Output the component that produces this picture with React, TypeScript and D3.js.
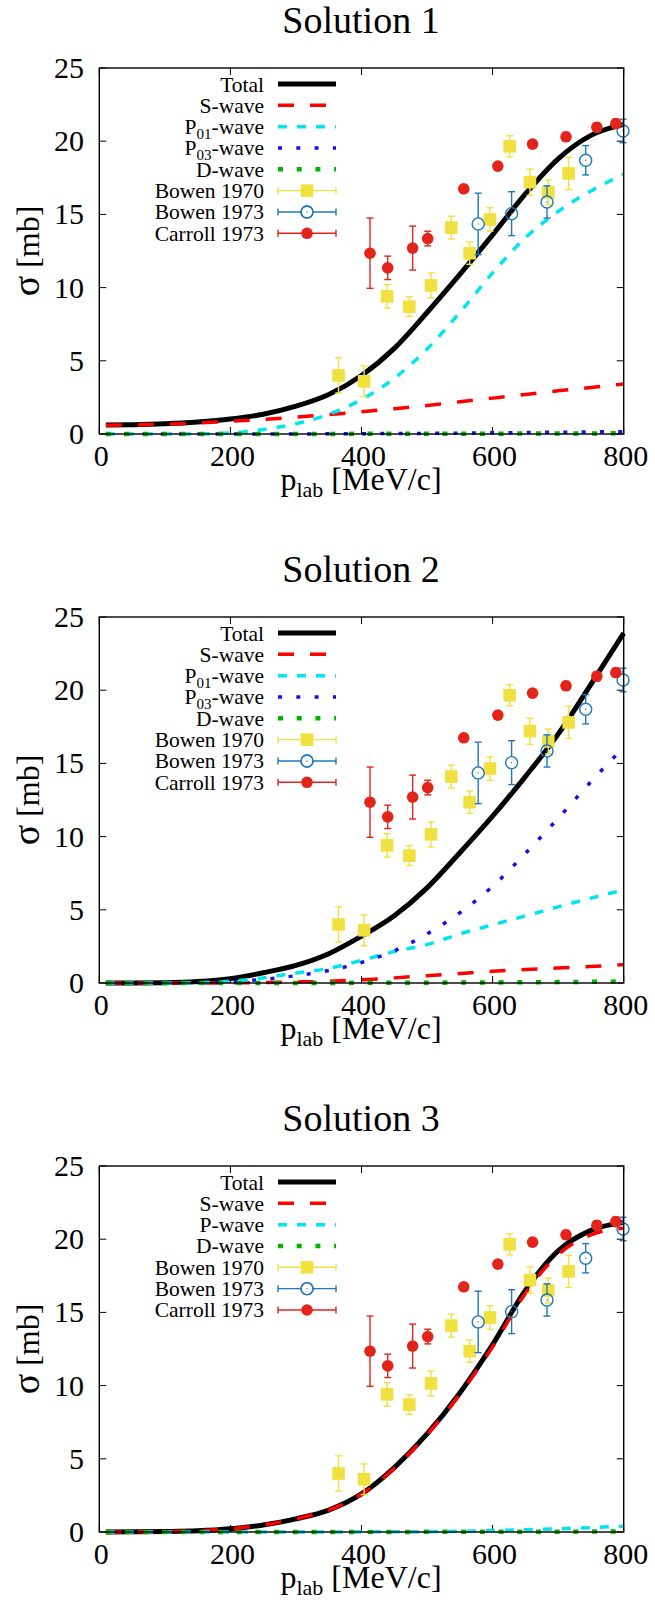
import React from 'react';
import * as d3 from 'd3';

// ---------- data ----------
const pGrid = [10, 50, 100, 150, 200, 250, 300, 350, 400, 450, 500, 550, 600, 650, 700, 750, 800];

// Solution 1
const s1Total = [0.62, 0.64, 0.7, 0.82, 1.02, 1.35, 1.9, 2.7, 4.0, 5.85, 8.3, 10.9, 13.6, 16.4, 18.8, 20.4, 21.15];
const s1S = [0.6, 0.62, 0.67, 0.75, 0.87, 1.0, 1.15, 1.32, 1.52, 1.73, 1.95, 2.2, 2.45, 2.7, 2.95, 3.18, 3.42];
const s1P01 = [0, 0, 0, 0.01, 0.07, 0.3, 0.7, 1.35, 2.35, 3.8, 5.8, 8.3, 11.0, 13.4, 15.2, 16.6, 17.75];
const s1P03 = [0, 0, 0, 0, 0, 0, 0, 0.01, 0.02, 0.03, 0.04, 0.06, 0.08, 0.1, 0.12, 0.14, 0.16];
const s1D = [0, 0, 0, 0, 0, 0, 0, 0, 0.01, 0.01, 0.01, 0.02, 0.02, 0.03, 0.03, 0.04, 0.05];

// Solution 2
const s2Total = [0, 0, 0.02, 0.1, 0.3, 0.7, 1.2, 2.0, 3.2, 4.6, 6.5, 8.9, 11.4, 14.1, 17.0, 20.4, 23.9];
const s2S = [0, 0, 0, 0, 0.01, 0.03, 0.07, 0.12, 0.22, 0.35, 0.5, 0.65, 0.8, 0.92, 1.03, 1.13, 1.25];
const s2P01 = [0, 0, 0, 0.02, 0.12, 0.35, 0.68, 1.0, 1.55, 2.15, 2.62, 3.35, 3.97, 4.58, 5.2, 5.8, 6.35];
const s2P03 = [0, 0, 0, 0.01, 0.08, 0.25, 0.5, 0.85, 1.4, 2.2, 3.35, 4.8, 6.6, 8.85, 11.25, 13.75, 16.1];
const s2D = [0, 0, 0, 0, 0, 0, 0, 0, 0.01, 0.01, 0.02, 0.03, 0.04, 0.05, 0.06, 0.08, 0.1];

// Solution 3
const s3Total = [0, 0.01, 0.03, 0.08, 0.22, 0.48, 0.9, 1.5, 2.6, 4.4, 6.7, 9.5, 12.8, 16.5, 19.2, 20.6, 21.15];
const s3S = [0, 0.01, 0.03, 0.08, 0.22, 0.48, 0.9, 1.5, 2.58, 4.35, 6.65, 9.4, 12.65, 16.3, 18.95, 20.3, 20.75];
const s3P = [0, 0, 0, 0, 0, 0, 0, 0, 0.01, 0.01, 0.02, 0.05, 0.1, 0.15, 0.22, 0.3, 0.4];
const s3D = [0, 0, 0, 0, 0, 0, 0, 0, 0, 0, 0.01, 0.01, 0.01, 0.02, 0.02, 0.03, 0.03];

// experimental data
const bowen70P = [365, 404, 439, 473, 506, 537, 565, 596, 626, 657, 685, 716];
const bowen70Sigma = [4.0, 3.6, 9.4, 8.7, 10.15, 14.1, 12.35, 14.65, 19.65, 17.2, 16.5, 17.8];
const bowen70Err = [1.2, 1.05, 0.8, 0.67, 0.85, 0.78, 0.76, 0.8, 0.72, 0.9, 0.85, 1.1];

const bowen73P = [578, 629, 683, 742, 799];
const bowen73Sigma = [14.35, 15.05, 15.85, 18.7, 20.7];
const bowen73Err = [2.1, 1.5, 1.1, 1.0, 0.8];

const carrollP = [413, 440, 478, 501, 556, 608, 661, 712, 759, 788];
const carrollSigma = [12.35, 11.35, 12.7, 13.35, 16.75, 18.3, 19.8, 20.3, 20.95, 21.2];
const carrollErr = [2.4, 0.8, 1.5, 0.5, 0.2, 0.2, 0.2, 0.3, 0.3, 0.3];

const xTicks = [0, 200, 400, 600, 800];
const yTicks = [0, 5, 10, 15, 20, 25];

// ---------- styles ----------
const FONT = "'Liberation Serif', 'Times New Roman', Times, serif";
const LEFT = 99.3;
const RIGHT = 623.7;
const PH = 366;
const PANEL_TOPS = [68, 617, 1166];

const C_YELLOW = '#f0e040';
const C_BLUE = '#1f78be';
const C_RED = '#e3241b';

type CurveDef = {
  name: string;
  sub?: string;
  values: number[];
  color: string;
  width: number;
  dash?: string;
};

const styleTotal = { color: '#000000', width: 5, dash: undefined };
const styleS = { color: '#ff0000', width: 3.5, dash: '16 16' };
const styleP = { color: '#00e5ee', width: 3.5, dash: '9 10' };
const styleP03 = { color: '#1010f0', width: 3.5, dash: '4 14.3' };
const styleD = { color: '#00b400', width: 4.5, dash: '5 13.7' };

const panels: { title: string; curves: CurveDef[] }[] = [
  {
    title: 'Solution 1',
    curves: [
      { name: 'Total', values: s1Total, ...styleTotal },
      { name: 'S-wave', values: s1S, ...styleS },
      { name: 'P', sub: '01', values: s1P01, ...styleP },
      { name: 'P', sub: '03', values: s1P03, ...styleP03 },
      { name: 'D-wave', values: s1D, ...styleD },
    ],
  },
  {
    title: 'Solution 2',
    curves: [
      { name: 'Total', values: s2Total, ...styleTotal },
      { name: 'S-wave', values: s2S, ...styleS },
      { name: 'P', sub: '01', values: s2P01, ...styleP },
      { name: 'P', sub: '03', values: s2P03, ...styleP03 },
      { name: 'D-wave', values: s2D, ...styleD },
    ],
  },
  {
    title: 'Solution 3',
    curves: [
      { name: 'Total', values: s3Total, ...styleTotal },
      { name: 'S-wave', values: s3S, ...styleS },
      { name: 'P-wave', values: s3P, ...styleP },
      { name: 'D-wave', values: s3D, ...styleD },
    ],
  },
];

const dataSets = [
  { name: 'Bowen 1970', p: bowen70P, s: bowen70Sigma, e: bowen70Err, color: C_YELLOW, marker: 'square' },
  { name: 'Bowen 1973', p: bowen73P, s: bowen73Sigma, e: bowen73Err, color: C_BLUE, marker: 'open' },
  { name: 'Carroll 1973', p: carrollP, s: carrollSigma, e: carrollErr, color: C_RED, marker: 'disc' },
];

function Marker({ kind, cx, cy, color }: { kind: string; cx: number; cy: number; color: string }) {
  if (kind === 'square') return <rect x={cx - 6.3} y={cy - 6.3} width={12.6} height={12.6} fill={color} />;
  if (kind === 'disc') return <circle cx={cx} cy={cy} r={5.8} fill={color} />;
  return (
    <g>
      <circle cx={cx} cy={cy} r={6} fill="none" stroke={color} strokeWidth={1.4} />
      <circle cx={cx} cy={cy} r={0.7} fill={color} />
    </g>
  );
}

function Panel({ top, title, curves }: { top: number; title: string; curves: CurveDef[] }) {
  const x = d3.scaleLinear().domain([0, 800]).range([LEFT, RIGHT]);
  const y = d3.scaleLinear().domain([0, 25]).range([top + PH, top]);
  const bottom = top + PH;
  const line = d3
    .line<number>()
    .x((_, i) => x(pGrid[i]))
    .y((d) => y(d))
    .curve(d3.curveMonotoneX);

  const tickLen = 7;
  const legendTextX = 264;
  const legX0 = 278;
  const legX1 = 336;
  const rowY = (i: number) => top + 16 + i * 21.33;
  const cap = 3.5;
  const tf = { fontFamily: FONT };

  return (
    <g>
      <text x={361} y={top - 35} fontSize={38} textAnchor="middle" style={tf}>
        {title}
      </text>

      {/* ticks */}
      {xTicks.map((t) => (
        <g key={'xt' + t}>
          <line x1={x(t)} x2={x(t)} y1={bottom} y2={bottom - tickLen} stroke="#000" strokeWidth={1} />
          <line x1={x(t)} x2={x(t)} y1={top} y2={top + tickLen} stroke="#000" strokeWidth={1} />
          <text x={x(t) + 2} y={bottom + 32} fontSize={30} textAnchor="middle" style={tf}>
            {t}
          </text>
        </g>
      ))}
      {yTicks.map((t) => (
        <g key={'yt' + t}>
          <line x1={LEFT} x2={LEFT + tickLen} y1={y(t)} y2={y(t)} stroke="#000" strokeWidth={1} />
          <line x1={RIGHT} x2={RIGHT - tickLen} y1={y(t)} y2={y(t)} stroke="#000" strokeWidth={1} />
          <text x={84} y={y(t) + 10} fontSize={30} textAnchor="end" style={tf}>
            {t}
          </text>
        </g>
      ))}

      {/* axis labels */}
      <text
        transform={`translate(39, ${(top + bottom) / 2}) rotate(-90)`}
        fontSize={32}
        textAnchor="middle"
        style={tf}
      >
        <tspan fontSize={38}>σ</tspan> [mb]
      </text>
      <text x={361} y={bottom + 56} fontSize={32} textAnchor="middle" style={tf}>
        p
        <tspan fontSize={22} dy={7}>
          lab
        </tspan>
        <tspan dy={-7}> [MeV/c]</tspan>
      </text>

      {/* curves */}
      {curves.map((c, i) => (
        <path
          key={'c' + i}
          d={line(c.values) || ''}
          fill="none"
          stroke={c.color}
          strokeWidth={c.width}
          strokeDasharray={c.dash}
          strokeLinecap="butt"
          strokeLinejoin="round"
        />
      ))}

      {/* data */}
      {dataSets.map((ds) => (
        <g key={ds.name}>
          {ds.p.map((p, i) => {
            const cx = x(p);
            const cy = y(ds.s[i]);
            const yt = y(ds.s[i] + ds.e[i]);
            const yb = y(ds.s[i] - ds.e[i]);
            const open = ds.marker === 'open';
            return (
              <g key={i}>
                {open ? (
                  <>
                    <line x1={cx} x2={cx} y1={yt} y2={cy - 6} stroke={ds.color} strokeWidth={1.4} />
                    <line x1={cx} x2={cx} y1={cy + 6} y2={yb} stroke={ds.color} strokeWidth={1.4} />
                  </>
                ) : (
                  <line x1={cx} x2={cx} y1={yt} y2={yb} stroke={ds.color} strokeWidth={1.4} />
                )}
                <line x1={cx - cap} x2={cx + cap} y1={yt} y2={yt} stroke={ds.color} strokeWidth={1.4} />
                <line x1={cx - cap} x2={cx + cap} y1={yb} y2={yb} stroke={ds.color} strokeWidth={1.4} />
                <Marker kind={ds.marker} cx={cx} cy={cy} color={ds.color} />
              </g>
            );
          })}
        </g>
      ))}

      {/* legend */}
      {curves.map((c, i) => (
        <g key={'l' + i}>
          <text x={legendTextX} y={rowY(i) + 7.5} fontSize={21.5} textAnchor="end" style={tf}>
            {c.sub ? (
              <>
                {c.name}
                <tspan fontSize={15} dy={5}>
                  {c.sub}
                </tspan>
                <tspan dy={-5}>-wave</tspan>
              </>
            ) : (
              c.name
            )}
          </text>
          <line
            x1={legX0}
            x2={legX1}
            y1={rowY(i)}
            y2={rowY(i)}
            stroke={c.color}
            strokeWidth={c.width}
            strokeDasharray={c.dash}
          />
        </g>
      ))}
      {dataSets.map((ds, j) => {
        const ry = rowY(curves.length + j);
        return (
          <g key={'ld' + j}>
            <text x={legendTextX} y={ry + 7.5} fontSize={21.5} textAnchor="end" style={tf}>
              {ds.name}
            </text>
            <line x1={legX0} x2={legX1} y1={ry} y2={ry} stroke={ds.color} strokeWidth={1.4} />
            <line x1={legX0} x2={legX0} y1={ry - cap} y2={ry + cap} stroke={ds.color} strokeWidth={1.4} />
            <line x1={legX1} x2={legX1} y1={ry - cap} y2={ry + cap} stroke={ds.color} strokeWidth={1.4} />
            {ds.marker === 'open' ? (
              <circle cx={(legX0 + legX1) / 2} cy={ry} r={6} fill="#fff" stroke={ds.color} strokeWidth={1.4} />
            ) : null}
            <Marker kind={ds.marker} cx={(legX0 + legX1) / 2} cy={ry} color={ds.color} />
          </g>
        );
      })}

      {/* frame */}
      <rect x={LEFT} y={top} width={RIGHT - LEFT} height={PH} fill="none" stroke="#000" strokeWidth={1.4} />
    </g>
  );
}

export default function App() {
  return (
    <svg
      width={655}
      height={1611}
      viewBox="0 0 655 1611"
      style={{ position: 'absolute', left: 0, top: 0, background: '#fff', display: 'block' }}
    >
      <rect x={0} y={0} width={655} height={1611} fill="#fff" />
      {panels.map((p, i) => (
        <Panel key={p.title} top={PANEL_TOPS[i]} title={p.title} curves={p.curves} />
      ))}
    </svg>
  );
}
